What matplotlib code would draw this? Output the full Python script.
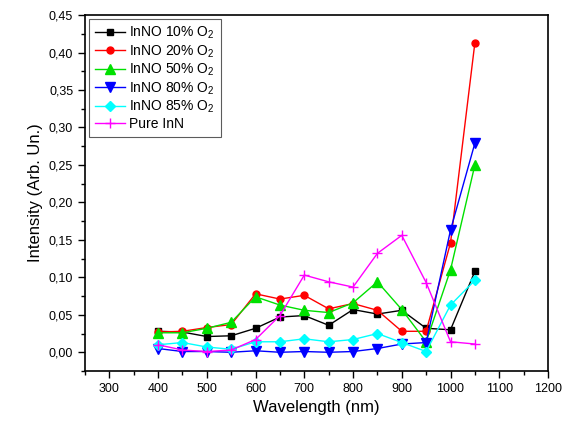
import numpy as np
import matplotlib
matplotlib.use('Agg')
import matplotlib.pyplot as plt
from matplotlib.ticker import MultipleLocator, FuncFormatter

plt.rcParams['font.family'] = ['Liberation Sans', 'DejaVu Sans']
plt.rcParams['mathtext.fontset'] = 'custom'
plt.rcParams['mathtext.rm'] = 'Liberation Sans'

# wavelength (nm)
wl = [400, 450, 500, 550, 600, 650, 700, 750, 800, 850, 900, 950, 1000, 1050]

o2_10 = [0.028, 0.027, 0.021, 0.022, 0.032, 0.047, 0.049, 0.036, 0.057, 0.051, 0.056, 0.032, 0.030, 0.108]
o2_20 = [0.027, 0.028, 0.033, 0.037, 0.078, 0.071, 0.076, 0.058, 0.065, 0.056, 0.028, 0.028, 0.146, 0.413]
o2_50 = [0.026, 0.026, 0.032, 0.040, 0.074, 0.063, 0.056, 0.053, 0.066, 0.094, 0.057, 0.014, 0.110, 0.250]
o2_80 = [0.005, 0.001, 0.001, 0.000, 0.002, 0.000, 0.001, 0.000, 0.001, 0.005, 0.011, 0.013, 0.163, 0.279]
o2_85 = [0.010, 0.013, 0.007, 0.004, 0.014, 0.014, 0.018, 0.014, 0.017, 0.025, 0.013, 0.001, 0.063, 0.096]
pure_inn = [0.010, 0.003, 0.001, 0.003, 0.017, 0.049, 0.103, 0.094, 0.087, 0.132, 0.156, 0.093, 0.014, 0.011]

fig = plt.figure(figsize=(5.64, 4.30), dpi=100)
ax = fig.add_axes([0.1507, 0.1372, 0.8209, 0.8278])

ax.plot(wl, o2_10, color='black', marker='s', ms=4.5, lw=1, label='InNO 10% O$_2$')
ax.plot(wl, o2_20, color='red', marker='o', ms=5, lw=1, label='InNO 20% O$_2$')
ax.plot(wl, o2_50, color='#00e000', marker='^', ms=6.5, lw=1, label='InNO 50% O$_2$')
ax.plot(wl, o2_80, color='blue', marker='v', ms=6.5, lw=1, label='InNO 80% O$_2$')
ax.plot(wl, o2_85, color='cyan', marker='D', ms=5, lw=1, label='InNO 85% O$_2$')
ax.plot(wl, pure_inn, color='magenta', marker='+', ms=7, mew=1, lw=1, label='Pure InN')

ax.set_xlim(250, 1200)
ax.set_ylim(-0.025, 0.45)
ax.xaxis.set_major_locator(MultipleLocator(100))
ax.xaxis.set_minor_locator(MultipleLocator(50))
ax.yaxis.set_major_locator(MultipleLocator(0.05))
ax.yaxis.set_minor_locator(MultipleLocator(0.025))
ax.yaxis.set_major_formatter(FuncFormatter(lambda v, p: f'{v:.2f}'.replace('.', ',')))
ax.set_xticks(range(300, 1201, 100))
ax.tick_params(which='major', direction='out', length=5, width=1, labelsize=9)
ax.tick_params(which='minor', direction='out', length=3, width=1)
for s in ax.spines.values():
    s.set_linewidth(1.2)

ax.set_xlabel('Wavelength (nm)', fontsize=12)
ax.set_ylabel('Intensity (Arb. Un.)', fontsize=12)

leg = ax.legend(loc='upper left', fontsize=10, frameon=True, fancybox=False,
                edgecolor='#333333', handlelength=2.2, labelspacing=0.15,
                borderpad=0.4, handletextpad=0.3, borderaxespad=0.3)
leg.get_frame().set_linewidth(0.8)

fig.savefig('out.png', dpi=100)
